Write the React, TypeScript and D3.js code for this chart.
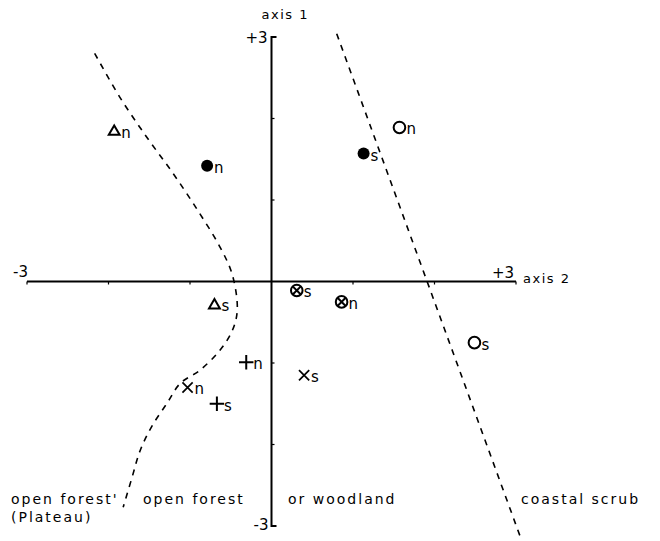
import * as d3 from 'd3';

// ordination scores (axis 2 = horizontal, axis 1 = vertical)
const pointShapes = ['filled', 'filled', 'open', 'open', 'triangle', 'triangle', 'otimes', 'otimes', 'plus', 'plus', 'times', 'times'];
const pointX = [-0.79, 1.13, 1.57, 2.49, -1.93, -0.70, 0.31, 0.86, -0.31, -0.67, 0.40, -1.03];
const pointY = [1.42, 1.57, 1.89, -0.75, 1.85, -0.28, -0.11, -0.25, -0.99, -1.50, -1.15, -1.30];
const pointLabels = ['n', 's', 'n', 's', 'n', 's', 's', 'n', 'n', 's', 's', 'n'];

// hand drawn boundaries between vegetation types
const leftBoundaryX = [-2.17, -1.86, -1.53, -1.21, -0.91, -0.63, -0.48, -0.42, -0.48, -0.63, -0.88, -1.12, -1.28, -1.47, -1.61, -1.71, -1.82];
const leftBoundaryY = [2.80, 2.26, 1.77, 1.33, 0.88, 0.42, 0.08, -0.35, -0.60, -0.84, -1.09, -1.25, -1.49, -1.78, -2.07, -2.40, -2.77];
const rightBoundaryX = [0.80, 3.07];
const rightBoundaryY = [3.04, -3.18];

const axisTicks = [-3, -2, -1, 1, 2, 3];

const W = 660;
const H = 541;
const font = "'DejaVu Sans', sans-serif";

export default function App() {
  const x = d3.scaleLinear().domain([-3, 3]).range([27, 516]);
  const y = d3.scaleLinear().domain([-3, 3]).range([526, 37]);

  const line = d3.line<number>()
    .x(i => x(leftBoundaryX[i]))
    .y(i => y(leftBoundaryY[i]))
    .curve(d3.curveCatmullRom.alpha(0.5));
  const straight = d3.line<number>()
    .x(i => x(rightBoundaryX[i]))
    .y(i => y(rightBoundaryY[i]));

  const marker = (shape: string, cx: number, cy: number, key: number) => {
    const sw = 2;
    if (shape === 'filled') return <circle key={key} cx={cx} cy={cy} r={6} fill="#000" />;
    if (shape === 'open') return <circle key={key} cx={cx} cy={cy} r={5.8} fill="none" stroke="#000" strokeWidth={sw} />;
    if (shape === 'triangle') {
      const p = d3.symbol(d3.symbolTriangle2, 85)();
      return <path key={key} d={p || ''} transform={`translate(${cx},${cy + 1})`} fill="none" stroke="#000" strokeWidth={sw} />;
    }
    if (shape === 'otimes') {
      const r = 5.8;
      const k = r * 0.7;
      return (
        <g key={key} transform={`translate(${cx},${cy})`} stroke="#000" strokeWidth={sw} fill="none">
          <circle r={r} />
          <path d={`M${-k},${-k}L${k},${k}M${-k},${k}L${k},${-k}`} />
        </g>
      );
    }
    if (shape === 'plus') {
      const p = d3.symbol(d3.symbolPlus, 70)();
      return <path key={key} d={p || ''} transform={`translate(${cx},${cy})`} fill="none" stroke="#000" strokeWidth={sw} />;
    }
    const p = d3.symbol(d3.symbolTimes, 70)();
    return <path key={key} d={p || ''} transform={`translate(${cx},${cy})`} fill="none" stroke="#000" strokeWidth={1.7} />;
  };

  const x0 = x(0);
  const y0 = y(0);

  return (
    <svg width={W} height={H} style={{ position: 'absolute', left: 0, top: 0, background: '#fff' }}
      fontFamily={font} fontSize={14} letterSpacing={2}>
      {/* axes */}
      <g stroke="#000" strokeWidth={2} fill="none">
        <line x1={x(-3)} x2={x(3)} y1={y0} y2={y0} />
        <path d={`M${x0 + 5},${y(3)}L${x0},${y(3)}L${x0},${y(-3)}L${x0 + 5},${y(-3)}`} />
        {axisTicks.map(t => (
          <line key={'xt' + t} x1={x(t)} x2={x(t)} y1={y0} y2={y0 + 3} strokeWidth={1.2} />
        ))}
        {axisTicks.filter(t => Math.abs(t) < 3).map(t => (
          <line key={'yt' + t} x1={x0} x2={x0 + 3} y1={y(t)} y2={y(t)} strokeWidth={1.2} />
        ))}
      </g>

      {/* boundaries */}
      <g stroke="#000" strokeWidth={1.6} fill="none" strokeDasharray="6,6">
        <path d={line(d3.range(leftBoundaryX.length)) || ''} />
        <path d={straight(d3.range(rightBoundaryX.length)) || ''} />
      </g>

      {/* axis labels */}
      <text x={x0 - 10} y={19} fontSize={13} letterSpacing={1.5}>axis 1</text>
      <text x={x0 - 26} y={y(3) + 6} fontSize={15} letterSpacing={0}>+3</text>
      <text x={x0 - 18} y={y(-3) + 4} fontSize={15} letterSpacing={0}>-3</text>
      <text x={x(-3) - 14} y={y0 - 5} fontSize={15} letterSpacing={0}>-3</text>
      <text x={x(3) - 24} y={y0 - 4} fontSize={15} letterSpacing={0}>+3</text>
      <text x={x(3) + 7} y={y0 + 1} fontSize={13} letterSpacing={1.5}>axis 2</text>

      {/* points */}
      {pointShapes.map((s, i) => {
        const cx = x(pointX[i]);
        const cy = y(pointY[i]);
        return (
          <g key={i}>
            {marker(s, cx, cy, i)}
            <text x={cx + 7} y={cy + 7} fontSize={15} letterSpacing={0}>{pointLabels[i]}</text>
          </g>
        );
      })}

      {/* region labels */}
      <text x={11} y={504}>open forest'</text>
      <text x={11} y={522}>(Plateau)</text>
      <text x={143} y={504}>open forest</text>
      <text x={288} y={504}>or woodland</text>
      <text x={521} y={504}>coastal scrub</text>
    </svg>
  );
}
